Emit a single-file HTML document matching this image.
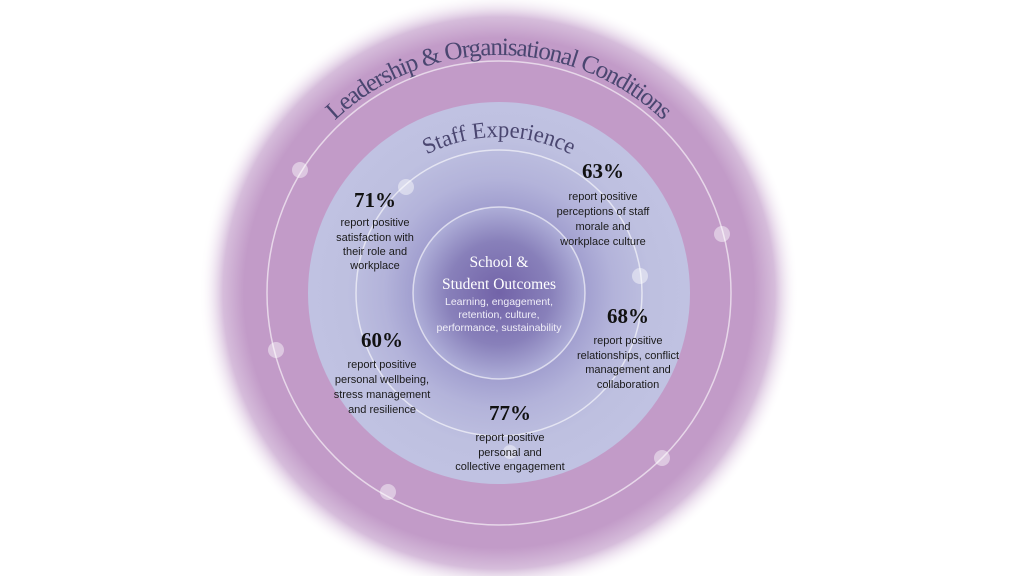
<!DOCTYPE html>
<html><head><meta charset="utf-8"><style>
html,body{margin:0;padding:0;background:#fff;width:1024px;height:576px;overflow:hidden}
svg{display:block}
.pct{font-family:"Liberation Serif",serif;font-size:21px;font-weight:bold;fill:#111;text-anchor:middle}
.d{font-family:"Liberation Sans",sans-serif;font-size:11px;fill:#1a1a1a;text-anchor:middle}
</style></head><body>
<svg width="1024" height="576" viewBox="0 0 1024 576">
<defs>
<radialGradient id="glow" cx="499" cy="293" r="300" gradientUnits="userSpaceOnUse">
<stop offset="0" stop-color="#c29bc8"/>
<stop offset="0.85" stop-color="#c29bc8"/>
<stop offset="0.92" stop-color="#d6bddb"/>
<stop offset="1" stop-color="#ffffff" stop-opacity="0"/>
</radialGradient>
<radialGradient id="lav" cx="499" cy="293" r="191" gradientUnits="userSpaceOnUse">
<stop offset="0.4" stop-color="#9c99cc"/>
<stop offset="0.6" stop-color="#b3b3da"/>
<stop offset="0.8" stop-color="#bec0e0"/>
<stop offset="1" stop-color="#c0c2e2"/>
</radialGradient>
<radialGradient id="core" cx="499" cy="293" r="86" gradientUnits="userSpaceOnUse">
<stop offset="0" stop-color="#7263a8"/>
<stop offset="0.6" stop-color="#8880ba"/>
<stop offset="1" stop-color="#aeaed8"/>
</radialGradient>
<path id="arcOuter" d="M 261 293 A 238 238 0 0 1 737 293"/>
<path id="arcInner" d="M 343 293 A 156 156 0 0 1 655 293"/>
</defs>
<circle cx="499" cy="293" r="300" fill="url(#glow)"/>
<circle cx="499" cy="293" r="191" fill="url(#lav)"/>
<circle cx="499" cy="293" r="86" fill="url(#core)"/>
<g fill="none" stroke="#ffffff" stroke-opacity="0.6" stroke-width="1.5">
<circle cx="499" cy="293" r="232"/>
<circle cx="499" cy="293" r="143"/>
<circle cx="499" cy="293" r="86"/>
</g>
<g fill="#ffffff" fill-opacity="0.45">
<circle cx="300" cy="170" r="8"/>
<circle cx="722" cy="234" r="8"/>
<circle cx="276" cy="350" r="8"/>
<circle cx="662" cy="458" r="8"/>
<circle cx="388" cy="492" r="8"/>
<circle cx="406" cy="187" r="8"/>
<circle cx="640" cy="276" r="8"/>
<circle cx="510" cy="452" r="7"/>
</g>
<text font-family="Liberation Serif,serif" font-size="25" fill="#4a4670"><textPath href="#arcOuter" startOffset="50%" text-anchor="middle" textLength="362" lengthAdjust="spacing">Leadership &amp; Organisational Conditions</textPath></text>
<text font-family="Liberation Serif,serif" font-size="23" fill="#4a4670"><textPath href="#arcInner" startOffset="50%" text-anchor="middle" textLength="150" lengthAdjust="spacingAndGlyphs">Staff Experience</textPath></text>

<text class="pct" x="375" y="207">71%</text>
<text class="d" x="375" y="226">report positive</text>
<text class="d" x="375" y="241">satisfaction with</text>
<text class="d" x="375" y="255">their role and</text>
<text class="d" x="375" y="269">workplace</text>

<text class="pct" x="603" y="178">63%</text>
<text class="d" x="603" y="200">report positive</text>
<text class="d" x="603" y="215">perceptions of staff</text>
<text class="d" x="603" y="230">morale and</text>
<text class="d" x="603" y="245">workplace culture</text>

<text class="pct" x="628" y="323">68%</text>
<text class="d" x="628" y="344">report positive</text>
<text class="d" x="628" y="359">relationships, conflict</text>
<text class="d" x="628" y="373">management and</text>
<text class="d" x="628" y="388">collaboration</text>

<text class="pct" x="382" y="347">60%</text>
<text class="d" x="382" y="368">report positive</text>
<text class="d" x="382" y="383">personal wellbeing,</text>
<text class="d" x="382" y="398">stress management</text>
<text class="d" x="382" y="413">and resilience</text>

<text class="pct" x="510" y="420">77%</text>
<text class="d" x="510" y="441">report positive</text>
<text class="d" x="510" y="456">personal and</text>
<text class="d" x="510" y="470">collective engagement</text>

<text x="499" y="267" font-family="Liberation Serif,serif" font-size="15.5" fill="#fff" text-anchor="middle">School &amp;</text>
<text x="499" y="289" font-family="Liberation Serif,serif" font-size="15.5" fill="#fff" text-anchor="middle">Student Outcomes</text>
<text x="499" y="305" font-family="Liberation Sans,sans-serif" font-size="10.5" fill="#f0eef8" text-anchor="middle">Learning, engagement,</text>
<text x="499" y="318" font-family="Liberation Sans,sans-serif" font-size="10.5" fill="#f0eef8" text-anchor="middle">retention, culture,</text>
<text x="499" y="331" font-family="Liberation Sans,sans-serif" font-size="10.5" fill="#f0eef8" text-anchor="middle">performance, sustainability</text>
</svg>
</body></html>
